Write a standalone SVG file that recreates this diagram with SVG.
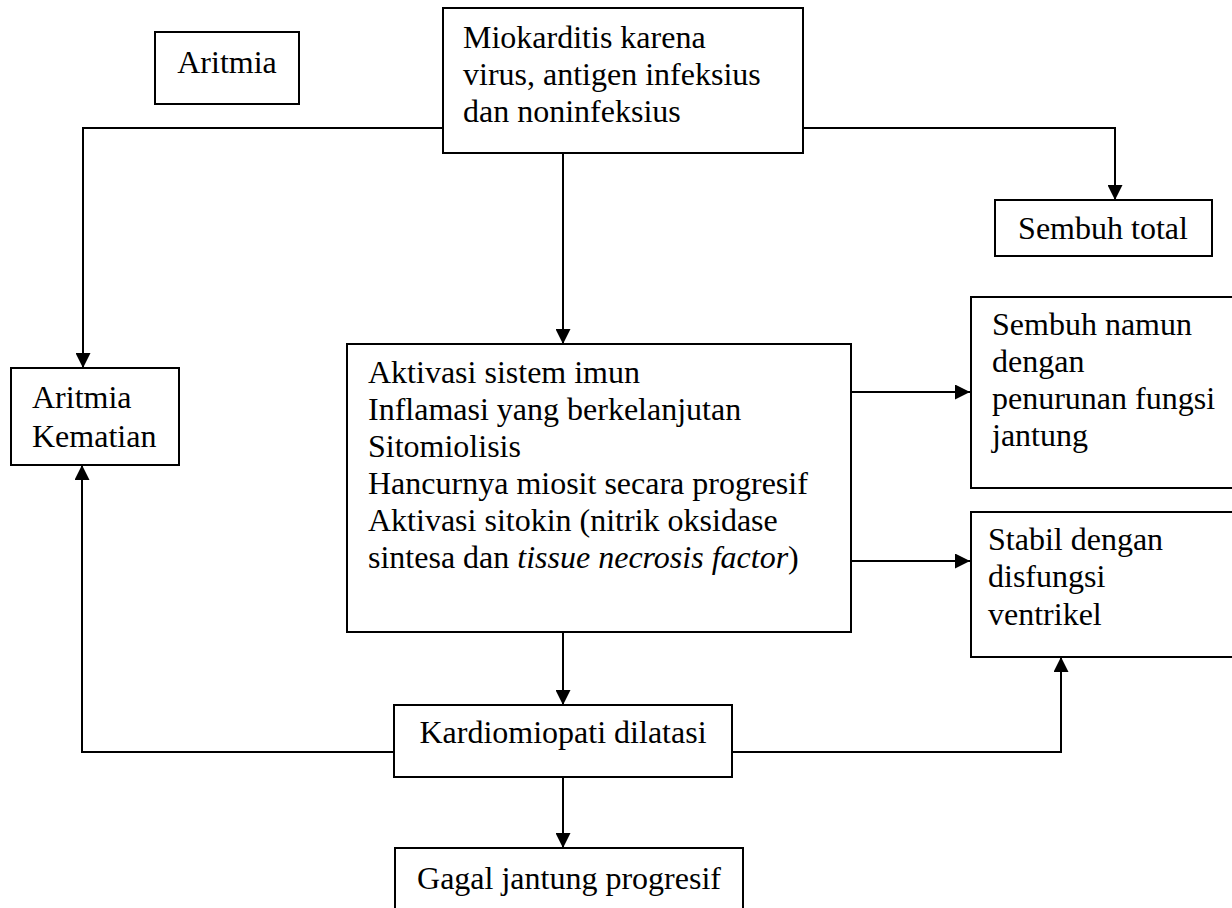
<svg xmlns="http://www.w3.org/2000/svg" width="1232" height="908" viewBox="0 0 1232 908">
<style>
.box{fill:#fff;stroke:#000;stroke-width:2}
.t{font-family:"Liberation Serif","Times New Roman",serif;font-size:32px;fill:#000}
.c{fill:none;stroke:#000;stroke-width:2;marker-end:url(#arr)}
.mid{text-anchor:middle}
</style>
<defs>
<marker id="arr" markerUnits="userSpaceOnUse" markerWidth="15" markerHeight="15" refX="15" refY="7.5" orient="auto">
<path d="M0,0 L15,7.5 L0,15 z" fill="#000"/>
</marker>
</defs>
<rect width="1232" height="908" fill="#fff"/>
<g id="connectors">
<path class="c" d="M443,128 H83 V368"/>
<path class="c" d="M803,128 H1115 V200"/>
<path class="c" d="M563,153 V344"/>
<path class="c" d="M851,392 H970"/>
<path class="c" d="M851,561 H970"/>
<path class="c" d="M563,632 V705"/>
<path class="c" d="M394,752 H82 V465"/>
<path class="c" d="M732,752 H1061 V657"/>
<path class="c" d="M563,777 V848"/>
</g>
<g id="aritmia">
<rect class="box" x="155" y="32" width="144" height="72"/>
<text class="t mid" x="227" y="73">Aritmia</text>
</g>
<g id="miokarditis">
<rect class="box" x="443" y="8" width="360" height="145"/>
<text class="t" x="463" y="48">Miokarditis karena</text>
<text class="t" x="463" y="85">virus, antigen infeksius</text>
<text class="t" x="463" y="122">dan noninfeksius</text>
</g>
<g id="sembuh-total">
<rect class="box" x="995" y="200" width="217" height="56"/>
<text class="t mid" x="1103" y="239">Sembuh total</text>
</g>
<g id="aritmia-kematian">
<rect class="box" x="11" y="368" width="168" height="97"/>
<text class="t" x="32" y="408">Aritmia</text>
<text class="t" x="32" y="447">Kematian</text>
</g>
<g id="aktivasi">
<rect class="box" x="347" y="344" width="504" height="288"/>
<text class="t" x="368" y="383">Aktivasi sistem imun</text>
<text class="t" x="368" y="420">Inflamasi yang berkelanjutan</text>
<text class="t" x="368" y="457">Sitomiolisis</text>
<text class="t" x="368" y="494">Hancurnya miosit secara progresif</text>
<text class="t" x="368" y="531">Aktivasi sitokin (nitrik oksidase</text>
<text class="t" x="368" y="568">sintesa dan <tspan font-style="italic">tissue necrosis factor</tspan>)</text>
</g>
<g id="sembuh-namun">
<rect class="box" x="971" y="297" width="280" height="191"/>
<text class="t" x="992" y="335">Sembuh namun</text>
<text class="t" x="992" y="372">dengan</text>
<text class="t" x="992" y="409">penurunan fungsi</text>
<text class="t" x="992" y="446">jantung</text>
</g>
<g id="stabil">
<rect class="box" x="971" y="512" width="280" height="145"/>
<text class="t" x="988" y="550">Stabil dengan</text>
<text class="t" x="988" y="587">disfungsi</text>
<text class="t" x="988" y="625">ventrikel</text>
</g>
<g id="kardiomiopati">
<rect class="box" x="394" y="705" width="338" height="72"/>
<text class="t mid" x="563" y="743">Kardiomiopati dilatasi</text>
</g>
<g id="gagal">
<rect class="box" x="395" y="848" width="348" height="80"/>
<text class="t mid" x="569" y="889">Gagal jantung progresif</text>
</g>
</svg>
